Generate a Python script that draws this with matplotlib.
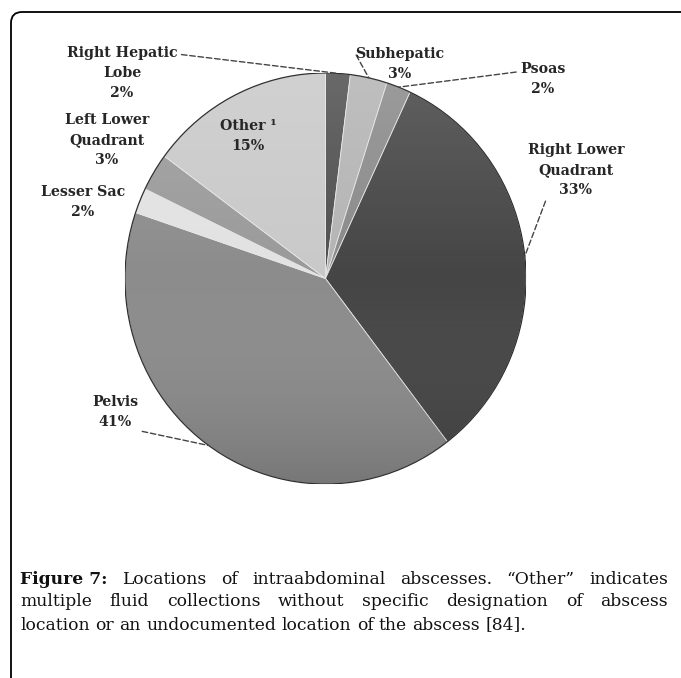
import matplotlib
matplotlib.use("Agg")
import matplotlib.pyplot as plt
import numpy as np
from matplotlib.patches import FancyBboxPatch, Circle
from matplotlib.colors import LinearSegmentedColormap

# ---- data ----
labels = ["Right Hepatic\nLobe\n2%", "Subhepatic\n3%", "Psoas\n2%",
          "Right Lower\nQuadrant\n33%", "Pelvis\n41%", "Lesser Sac\n2%",
          "Left Lower\nQuadrant\n3%", "Other \u00b9\n15%"]
values = [2, 3, 2, 33, 41, 2, 3, 15]
colors = ["#4f4f4f", "#b4b4b4", "#8a8a8a", "#454545", "#8c8c8c", "#e2e2e2",
          "#9a9a9a", "#c9c9c9"]

caption_bold = "Figure 7:"
caption_lines = [
    "Locations of intraabdominal abscesses. \u201cOther\u201d indicates",
    "multiple fluid collections without specific designation of abscess",
    "location or an undocumented location of the abscess [84].",
]

W, H = 681, 678
fig = plt.figure(figsize=(W / 100, H / 100), dpi=100)

# pie axes placed in pixel box (image coords)
x0, x1, y0, y1 = 125, 526, 73, 484
ax = fig.add_axes([x0 / W, (H - y1) / H, (x1 - x0) / W, (y1 - y0) / H])
wedges, _ = ax.pie(values, colors=colors, startangle=90, counterclock=False,
                   radius=1.0, wedgeprops=dict(edgecolor="#e6e6e6", linewidth=0.6))
ax.set_aspect("auto")
ax.axis("off")

# shading overlay
cmap = LinearSegmentedColormap.from_list(
    "shade", [(1, 1, 1, 0.15), (1, 1, 1, 0.0), (0, 0, 0, 0.15)])
grad = np.repeat(np.linspace(0, 1, 256).reshape(-1, 1), 4, axis=1)
im = ax.imshow(grad, extent=(-1, 1, -1, 1), cmap=cmap, aspect="auto",
               origin="upper", zorder=3)
clip = Circle((0, 0), 1.0, transform=ax.transData, facecolor="none", edgecolor="none")
ax.add_patch(clip)
im.set_clip_path(clip)
outline = Circle((0, 0), 1.0, facecolor="none", edgecolor="#303030", linewidth=0.9, zorder=4)
ax.add_patch(outline)
ax.set_xlim(-1.0, 1.0)
ax.set_ylim(-1.0, 1.0)

# label positions (image pixel coords of text center)
label_pos = [(122, 73), (400, 64), (543, 79), (576, 170), (115, 412),
             (83, 202), (107, 140), (248, 136)]
leader = [True, True, True, True, True, False, False, False]
relpos = [(1.0, 0.85), (0.0, 0.8), (0.0, 0.72), (0.2, 0.0), (0.85, 0.0),
          None, None, None]

total = float(sum(values))
cum = 0.0
lfont = dict(family="DejaVu Serif", weight="bold", size=10.2, color="#262626")
for i, (lab, v) in enumerate(zip(labels, values)):
    mid = (cum + v / 2) / total
    cum += v
    theta = np.deg2rad(90 - 360 * mid)
    xy = (np.cos(theta), np.sin(theta))
    px, py = label_pos[i]
    if leader[i]:
        ax.annotate(lab, xy=xy, xycoords="data", xytext=(px, H - py),
                    textcoords="figure pixels", ha="center", va="center",
                    linespacing=1.55, annotation_clip=False, zorder=6,
                    arrowprops=dict(arrowstyle="-", linestyle=(0, (4, 2)),
                                    color="#444444", lw=1.0, relpos=relpos[i],
                                    shrinkA=1, shrinkB=0),
                    **lfont)
    else:
        fig.text(px / W, (H - py) / H, lab, ha="center", va="center",
                 linespacing=1.55, zorder=6, **lfont)

# frame
frame = FancyBboxPatch((11, -60), 760, H - 12 + 60, boxstyle="round,pad=0,rounding_size=11",
                       transform=None, facecolor="none", edgecolor="black",
                       linewidth=1.3)
fig.add_artist(frame)

# caption with justification
fig.canvas.draw()
renderer = fig.canvas.get_renderer()
cfam = "DejaVu Serif"
left, right = 20, 668
line_y = [579, 602, 625]

def width_of(s, size, bold=False):
    t = fig.text(0, 0, s, family=cfam, size=size, weight="bold" if bold else "normal")
    w = t.get_window_extent(renderer).width
    t.remove()
    return w

# font size: the first line at natural spacing fills ~91% of the text width
w12 = width_of(caption_bold, 12.0, True) + width_of(" " + caption_lines[0], 12.0)
cfs = 12.0 * (right - left) / w12 * 0.91

for li, line in enumerate(caption_lines):
    words = line.split(" ")
    items = [(w, False) for w in words]
    if li == 0:
        items = [(caption_bold, True)] + items
    y = (H - line_y[li]) / H
    widths = [width_of(w, cfs, b) for w, b in items]
    if li < len(caption_lines) - 1:
        gap = (right - left - sum(widths)) / (len(items) - 1)
    else:
        gap = width_of("a b", cfs) - width_of("a", cfs) - width_of("b", cfs)
    x = left
    for (w, b), wd in zip(items, widths):
        fig.text(x / W, y, w, family=cfam, size=cfs, color="#111111",
                 weight="bold" if b else "normal", va="center", ha="left")
        x += wd + gap

fig.savefig("out.png", dpi=100)
